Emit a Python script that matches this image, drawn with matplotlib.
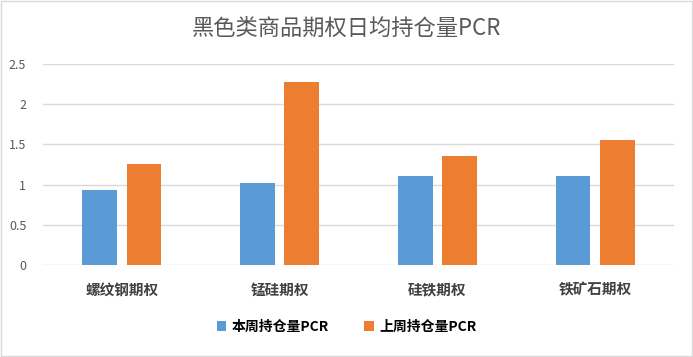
import matplotlib.pyplot as plt
import numpy as np

plt.rcParams['font.family'] = ['Noto Sans CJK SC', 'DejaVu Sans']

categories = ['螺纹钢期权', '锰硅期权', '硅铁期权', '铁矿石期权']
this_week = [0.93, 1.02, 1.11, 1.11]
last_week = [1.26, 2.27, 1.36, 1.56]
series_names = ['本周持仓量PCR', '上周持仓量PCR']

fig = plt.figure(figsize=(6.93, 3.57), dpi=100)
ax = fig.add_axes([43 / 693, 1 - 265 / 357, 631 / 693, 201 / 357])

x = np.arange(len(categories))
w = 0.22
ax.bar(x - w / 2 - 0.03, this_week, w, color='#5B9BD5', label=series_names[0], zorder=3)
ax.bar(x + w / 2 + 0.03, last_week, w, color='#ED7D31', label=series_names[1], zorder=3)

ax.set_xlim(-0.5, 3.5)
ax.set_ylim(0, 2.5)
ax.set_yticks([0, 0.5, 1, 1.5, 2, 2.5])
ax.set_yticklabels(['0', '0.5', '1', '1.5', '2', '2.5'])
ax.set_xticks(x)
ax.set_xticklabels(categories, fontsize=10.5, fontweight='bold', color='#404040')
ax.tick_params(axis='y', labelsize=9, colors='#595959', length=0, pad=12)
ax.tick_params(axis='x', length=0, pad=12)
ax.grid(axis='y', color='#D9D9D9', linewidth=1, zorder=0)
for s in ax.spines.values():
    s.set_visible(False)

fig.text(0.5, 1 - 28 / 357, '黑色类商品期权日均持仓量PCR', ha='center', va='center',
         fontsize=16, fontweight='medium', color='#595959')

fig.legend(loc='center', bbox_to_anchor=(0.5, 1 - 327 / 357), ncol=2, frameon=False,
           handlelength=0.7, handleheight=0.7, columnspacing=2.5,
           handletextpad=0.4, prop={'weight': 'bold', 'size': 10})

fig.patches.append(plt.Rectangle((0.002, 0.003), 0.996, 0.994, transform=fig.transFigure,
                                 fill=False, edgecolor='#D9D9D9', linewidth=1))

fig.savefig('out.png', dpi=100)
